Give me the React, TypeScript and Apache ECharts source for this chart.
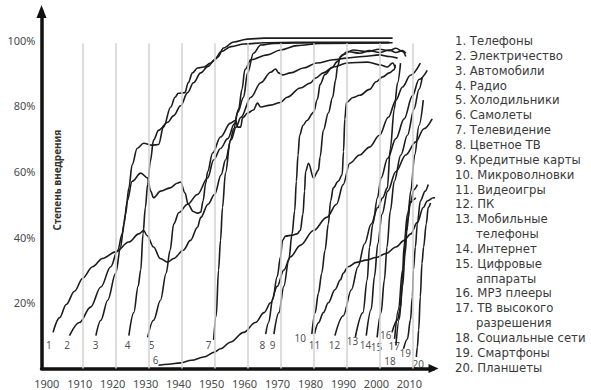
import React, { useEffect, useRef } from "react";
import * as echarts from "echarts";

// ---------- axis ticks ----------
const xTickYears = [1900, 1910, 1920, 1930, 1940, 1950, 1960, 1970, 1980, 1990, 2000, 2010];
const xGridYears = [1910, 1920, 1930, 1940, 1950, 1960, 1970, 1980, 1990, 2000, 2010];
const yTickValues = [20, 40, 60, 80, 100];
const yGridValues = [20, 40, 60, 80];

// ---------- legend ----------
const legendItems = [
  "1. Телефоны",
  "2. Электричество",
  "3. Автомобили",
  "4. Радио",
  "5. Холодильники",
  "6. Самолеты",
  "7. Телевидение",
  "8. Цветное ТВ",
  "9. Кредитные карты",
  "10. Микроволновки",
  "11. Видеоигры",
  "12. ПК",
  "13. Мобильные|телефоны",
  "14. Интернет",
  "15. Цифровые|аппараты",
  "16. MP3 плееры",
  "17. ТВ высокого|разрешения",
  "18. Социальные сети",
  "19. Смартфоны",
  "20. Планшеты",
];

// ---------- series: [year, adoption %] ----------
const phones = [[1901,11],[1903,15.5],[1905,19.5],[1907.5,23.5],[1910,27.5],[1913,31],[1916,33.5],[1920,35.5],[1924,38.5],[1927,41],[1928.5,42],[1929.5,40.5],[1931.5,37],[1933.5,33.5],[1935.8,32.4],[1937.6,33.5],[1940.5,36],[1942.7,39],[1944.8,43],[1945.8,46],[1948,50],[1950,53],[1952,59],[1953.3,63.5],[1955,69.6],[1956.5,73.5],[1958,76.5],[1961,82.6],[1964,87],[1967,90.2],[1968.5,91.2],[1969.4,90],[1970.6,89.4],[1973,90],[1977,91.5],[1981,93],[1986,94],[1990,94.5],[1995,95],[2000,95.5],[2003,95],[2005.5,94.5]];
const electricity = [[1906,10],[1909,14],[1912.4,18.7],[1915.5,24.8],[1918.5,31],[1920.6,36],[1922,41],[1923,47],[1924,55],[1925,62],[1926.5,67],[1928.5,68.6],[1931,68],[1933,68.2],[1934.5,73.5],[1936.7,79.6],[1938,82.6],[1939,83.8],[1941,84],[1942,87],[1943.3,90],[1944.8,91.5],[1946.7,91.8],[1948.8,93],[1951,94.8],[1952.7,97.6],[1955.8,99.4],[1960,100.3],[1965,100.6],[2004,100.6]];
const cars = [[1914,10],[1915.5,14.7],[1917.6,20.8],[1920,29],[1921.5,37],[1922.5,44],[1923.5,51],[1925,57],[1927.6,59.5],[1929.7,58],[1930.6,54],[1931.5,52],[1933.6,54],[1936.5,55],[1938.8,56.5],[1939.7,56.8],[1941,53.5],[1942,50],[1943.5,47.8],[1944.8,47.3],[1945.8,47.6],[1946.5,51],[1947.3,56.4],[1947.9,60],[1949.4,65.6],[1951.8,70.5],[1954.8,74.7],[1956.4,75.6],[1957,73.5],[1957.9,73.5],[1958.5,76.3],[1960,77.8],[1961.8,78.7],[1963,80.8],[1964,79.6],[1967,80.2],[1970,81],[1972,82.6],[1976,85.4],[1979,86.9],[1980.6,88.4],[1983,90],[1986,91.8],[1990.3,93],[1996.4,93.3],[2000.3,92.4],[2002.4,91.8],[2004,93],[2004.8,91.5]];
const radio = [[1924,10],[1925.5,17],[1926.8,25],[1927.6,30],[1928.3,41],[1929,49],[1929.7,56],[1930.5,63],[1931.5,69.6],[1933,72.5],[1935.8,75],[1937.6,77],[1939.7,80],[1941.8,84],[1943.6,87],[1945.8,90],[1948,92],[1950,94],[1952,96.5],[1955,98],[1959,98.8],[1965,99.2],[1975,99.3],[2003,99.3]];
const fridges = [[1929.7,9.5],[1931.5,14.7],[1933.6,20.8],[1935.3,29],[1936.5,36],[1937.6,44],[1939.2,47.5],[1941.8,50],[1944.8,53],[1947.9,58],[1949.7,63.5],[1951.8,67],[1954,70],[1956,74.5],[1957.3,79],[1958.3,85],[1959.2,91],[1961,94],[1966,95.5],[1970,97],[1975,98.3],[1982,99],[2003,99.2]];
const planes = [[1933,1],[1936,1.3],[1939.7,1.7],[1943,2.5],[1946.7,3.5],[1950,5],[1951.8,6],[1954.8,8],[1958.8,11],[1962.4,14],[1965,17],[1967,20],[1969,25],[1971,30],[1973,34],[1976,37.5],[1980,42],[1984,46],[1987,50],[1989,56],[1991,62.5],[1994,65],[1997,67.4],[2000,71],[2002.7,76.5],[2005,81.7],[2007,85.7],[2009.4,89.3],[2012.4,93]];
const television = [[1949.7,8.7],[1950.5,16],[1951.2,30],[1951.8,39],[1952.4,49],[1953.3,59.5],[1954.8,69.6],[1955.8,73],[1957,78],[1958.8,82.6],[1960,90],[1961.8,96],[1964,98.5],[1968,99],[1980,99.2],[2004,99.2]];
const colorTv = [[1965.5,10.5],[1966.4,14],[1967.6,21],[1969,28],[1970,34],[1970.6,39],[1971.5,40.3],[1973.6,40.6],[1975,41],[1976,42],[1976.8,47],[1977.3,54],[1977.6,60],[1978.5,62.5],[1980,58],[1981.5,60.4],[1982,64.4],[1983,72.6],[1984.5,77.8],[1985.8,82.6],[1986.7,87.8],[1987.3,92],[1988.2,95],[1990.3,96.5],[1994,96],[1997,96.8],[2000,96.2],[2003,97],[2005,96.2],[2007,96.8],[2008,96]];
const creditCards = [[1968,10.5],[1969.5,17],[1971,25],[1972.5,33],[1973.5,41],[1974.3,48],[1974.8,57],[1975.3,65],[1975.8,71],[1976.8,74],[1978,75.5],[1980,78],[1981.2,82],[1982,86.5],[1983.5,89.5],[1985.5,91.5],[1987.3,93.5],[1988.8,95.5],[1992,97],[1996,96.5],[2000,97.2],[2003,96.8],[2005,97.5],[2007,96.5],[2008,95]];
const microwaves = [[1979.5,10.5],[1980.5,17],[1981.5,23],[1982.5,29],[1983.5,36],[1984.5,44],[1985.2,51],[1986,55],[1987.5,57],[1988.7,59],[1989.1,66],[1989.5,76],[1990,81],[1992,82.5],[1994,83.2],[1997,85],[1999,87.3],[2001,88.8],[2003,90],[2004.5,91],[2004.8,92.5]];
const videoGames = [[1980.3,10.5],[1981.5,13.9],[1983,17],[1984.5,20],[1986.5,24],[1988.2,27],[1989,29],[1990.5,31],[1993,32.3],[1996,33],[1999,33.8],[2002,35],[2005,37],[2007.5,39],[2009.5,41],[2011.5,44.5],[2013.3,49],[2014.5,51],[2016.4,52],[2017.3,52]];
const computers = [[1986.5,10],[1989,16],[1991.5,24],[1993.5,31],[1995.5,38],[1997.5,44],[1999.5,49],[2001,52],[2002.4,55],[2003.3,67],[2004.5,79],[2005.5,87],[2006.4,93]];
const mobilePhones = [[1992.7,9.6],[1995,17],[1996.3,27],[1997,37],[1998,44],[1999.4,52],[2000.5,58],[2002.5,64],[2005,70],[2007.5,76],[2010,83],[2012,88],[2014.5,90.8]];
const internet = [[1996,10],[1997.5,18],[1998.5,28],[1999.5,38],[2000.8,47],[2002.5,54],[2005,60],[2008,65],[2011,69],[2013.5,73],[2016,76]];
const cameras = [[1999.3,9.5],[2000.5,17],[2001.5,27],[2002.3,37],[2003.3,48],[2004.5,57],[2006.5,65],[2008.5,71],[2010.5,79],[2012,85],[2013,88.7]];
const mp3Players = [[2003.8,11],[2005.5,14.8],[2006.4,18.7],[2007,27],[2007.4,37],[2008.5,47],[2009.4,50.5],[2010.5,51.5],[2011,52]];
const hdtv = [[2004.6,9],[2005.8,18],[2007,30],[2008.3,42],[2009.5,54],[2010.7,65],[2012,74],[2013.3,81.7]];
const socialMedia = [[2005,7],[2006,15],[2007,25],[2007.8,35],[2008.5,45],[2009.5,51],[2010.5,54.5],[2011.5,56]];
const smartphones = [[2007.3,6],[2008.5,9],[2009.4,14.8],[2010,21.8],[2010.3,30],[2010.9,37],[2011.5,44],[2012.4,51],[2013.9,54],[2014.8,56]];
const tablets = [[2011.2,3.5],[2011.5,6.5],[2011.9,11.7],[2012.4,21.8],[2012.9,32],[2013.4,37],[2014.2,44],[2014.8,49],[2015.5,50.4]];

const curves = [phones, electricity, cars, radio, fridges, planes, television, colorTv, creditCards, microwaves, videoGames, computers, mobilePhones, internet, cameras, mp3Players, hdtv, socialMedia, smartphones, tablets];

// curve number labels: [year, %, text]
const curveLabels = [
  [1899.7, 7.3, "1"], [1905.3, 7.3, "2"], [1913.9, 7.3, "3"], [1923.6, 7.3, "4"], [1930.9, 7.3, "5"],
  [1932.1, 2.6, "6"], [1948.2, 7.3, "7"], [1964.5, 7.3, "8"], [1967.6, 7.3, "9"], [1976.0, 9.2, "10"],
  [1980.3, 7.3, "11"], [1986.4, 7.3, "12"], [1991.8, 8.4, "13"], [1995.8, 7.3, "14"], [1999.1, 6.4, "15"],
  [2001.9, 10.2, "16"], [2004.5, 6.9, "17"], [2003.2, 2.4, "18"], [2007.8, 4.7, "19"], [2011.8, 1.4, "20"],
];

const FONT = "'Noto Sans', 'DejaVu Sans', sans-serif";
const LEGEND_FONT = "'DejaVu Sans', 'Noto Sans', sans-serif";

export default function App() {
  const ref = useRef<HTMLDivElement>(null);
  useEffect(() => {
    if (!ref.current) return;
    const chart = echarts.init(ref.current, null, { renderer: "svg" });

    const gridLines: any[] = [];
    xGridYears.forEach((y) => gridLines.push([{ coord: [y, 0] }, { coord: [y, 99] }]));
    yGridValues.forEach((v) => gridLines.push([{ coord: [1897.5, v] }, { coord: [2020, v] }]));

    const legendGraphics: any[] = [];
    let row = 0;
    legendItems.forEach((item) => {
      const parts = item.split("|");
      parts.forEach((p, i) => {
        legendGraphics.push({
          type: "text",
          x: i === 0 ? 455 : 476,
          y: 41 + row * 14.85,
          style: {
            text: p,
            fill: "#3a3a3a",
            font: `11.7px ${LEGEND_FONT}`,
            lineHeight: 13,
            textVerticalAlign: "middle",
          },
        });
        row++;
      });
    });

    const series: any[] = [
      {
        type: "line",
        data: [[1900, 0]],
        showSymbol: false,
        lineStyle: { opacity: 0 },
        silent: true,
        z: 1,
        markLine: {
          silent: true,
          symbol: "none",
          label: { show: false },
          lineStyle: { color: "#d2d2d2", width: 1.5, type: "solid" },
          data: gridLines,
        },
      },
    ];
    curves.forEach((c) => {
      series.push({
        type: "line",
        data: c,
        showSymbol: false,
        smooth: 0.35,
        smoothMonotone: "x",
        lineStyle: { color: "#1c1c1c", width: 1.6 },
        silent: true,
        z: 3,
      });
    });
    series.push({
      type: "scatter",
      data: curveLabels,
      symbolSize: 1,
      itemStyle: { color: "transparent" },
      silent: true,
      z: 4,
      label: {
        show: true,
        position: "inside",
        formatter: (p: any) => p.value[2],
        color: "#222",
        fontSize: 10,
        lineHeight: 9,
        fontFamily: FONT,
      },
      labelLayout: { hideOverlap: false },
    });

    chart.setOption({
      animation: false,
      backgroundColor: "#ffffff",
      grid: { left: 41.5, top: 11.5, right: 157.5, bottom: 21.5, containLabel: false },
      xAxis: {
        type: "value",
        min: 1897.5,
        max: 2016.4,
        splitLine: { show: false },
        axisTick: { show: false },
        axisLine: {
          show: true,
          onZero: false,
          lineStyle: { color: "#111", width: 3.5 },
          symbol: ["none", "triangle"],
          symbolSize: [9, 10],
        },
        axisLabel: {
          customValues: xTickYears,
          formatter: (v: number) => String(v),
          color: "#4a4a4a",
          fontSize: 11,
          fontFamily: FONT,
          margin: 9,
          padding: [0, 6, 0, 0],
        },
      },
      yAxis: {
        type: "value",
        min: 0,
        max: 108.7,
        splitLine: { show: false },
        axisTick: { show: false },
        axisLine: {
          show: true,
          onZero: false,
          lineStyle: { color: "#111", width: 3.5 },
          symbol: ["none", "triangle"],
          symbolSize: [10, 13],
        },
        axisLabel: {
          customValues: yTickValues,
          formatter: (v: number) => `${v}%`,
          color: "#4a4a4a",
          fontSize: 11,
          fontFamily: FONT,
          margin: 6,
        },
      },
      graphic: [
        {
          type: "text",
          x: 57,
          y: 180,
          rotation: Math.PI / 2,
          style: {
            text: "Степень внедрения",
            fill: "#333",
            font: `bold 10px ${FONT}`,
            textAlign: "center",
            textVerticalAlign: "middle",
          },
        },
        ...legendGraphics,
      ],
      series,
    });

    return () => chart.dispose();
  }, []);

  return (
    <div
      ref={ref}
      style={{ position: "fixed", left: 0, top: 0, width: 591, height: 390, background: "#fff" }}
    />
  );
}
